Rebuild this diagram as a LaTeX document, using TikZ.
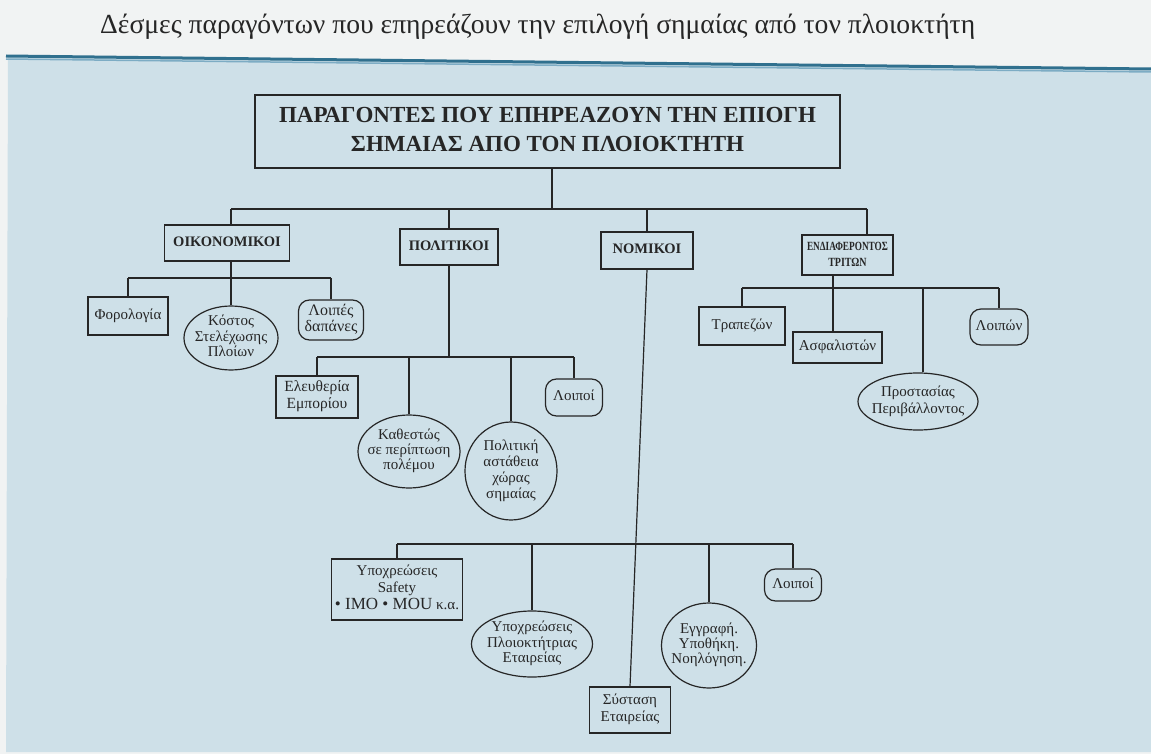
\documentclass[tikz,border=0pt]{standalone}
\usepackage{fontspec}
\usepackage{graphicx}
\setmainfont{Liberation Serif}
\usetikzlibrary{shapes.geometric}
\definecolor{bgblue}{RGB}{206,224,232}
\definecolor{paper}{RGB}{241,243,243}
\definecolor{ruledark}{RGB}{48,112,142}
\definecolor{rulelight}{RGB}{125,172,196}
\definecolor{ink}{RGB}{38,38,38}
\newcommand{\ml}[1]{\makebox[0pt]{\begin{tabular}{@{}c@{}}#1\end{tabular}}}
\begin{document}
\begin{tikzpicture}[x=1pt,y=-1pt,
  wh/.style 2 args={minimum width=#1pt, minimum height=#2pt},
  box/.style={draw=ink, rectangle, line width=1.2pt, inner sep=0pt, text=ink,
    font=\fontsize{15}{15}\selectfont},
  head/.style={box, font=\bfseries\fontsize{14.5}{16}\selectfont},
  pill/.style={box, rounded corners=11pt},
  oval/.style={draw=ink, ellipse, line width=1.2pt, inner sep=0pt, text=ink,
    font=\fontsize{15}{15}\selectfont},
  link/.style={draw=ink, line width=1.2pt}]
\useasboundingbox (0,0) rectangle (1151,754);
% page background
\fill[paper] (0,0) rectangle (1151,754);
\fill[bgblue] (8,57) -- (1151,70) -- (1151,752) -- (6,752) -- cycle;
\draw[ruledark, line width=3pt] (6,56) -- (1151,69);
\draw[rulelight, line width=1.5pt] (6,59) -- (1151,72);
% caption
\node[anchor=base west, inner sep=0pt, text=ink, font=\fontsize{27.6}{28}\selectfont] (cap) at (100,34)
  {Δέσμες παραγόντων που επηρεάζουν την επιλογή σημαίας από τον πλοιοκτήτη};
% root
\node[box, wh={585}{73}, font=\bfseries\fontsize{23}{29}\selectfont] (main) at (547.5,131.5)
  {\ml{ΠΑΡΑΓΟΝΤΕΣ ΠΟΥ ΕΠΗΡΕΑΖΟΥΝ ΤΗΝ ΕΠΙΟΓΗ\\ΣΗΜΑΙΑΣ ΑΠΟ ΤΟΝ ΠΛΟΙΟΚΤΗΤΗ}};
% level 1
\node[head, wh={125}{36}] (oik) at (227,243) {\ml{ΟΙΚΟΝΟΜΙΚΟΙ}};
\node[head, wh={98}{36}] (pol) at (449,247) {\ml{ΠΟΛΙΤΙΚΟΙ}};
\node[head, wh={92}{37}] (nom) at (647,250.5) {\ml{ΝΟΜΙΚΟΙ}};
\node[head, wh={91}{40}, font=\bfseries\fontsize{12.5}{16}\selectfont] (end) at (847.5,255)
  {\ml{\scalebox{0.74}[1]{ΕΝΔΙΑΦΕΡΟΝΤΟΣ}\\\scalebox{0.8}[1]{ΤΡΙΤΩΝ}}};
% economic
\node[box, wh={80}{38}] (for) at (128,316) {\ml{Φορολογία}};
\node[oval, wh={94}{63}] (kos) at (231,338) {\ml{Κόστος\\Στελέχωσης\\Πλοίων}};
\node[pill, wh={65}{40}, font=\fontsize{16}{16}\selectfont] (lo1) at (331,320) {\ml{Λοιπές\\δαπάνες}};
% political
\node[box, wh={82}{42}, font=\fontsize{15.5}{17}\selectfont] (ele) at (317,397) {\ml{Ελευθερία\\Εμπορίου}};
\node[oval, wh={102}{73}] (kat) at (409,451.5) {\ml{Καθεστώς\\σε περίπτωση\\πολέμου}};
\node[oval, wh={92}{98}, font=\fontsize{15}{16}\selectfont] (ast) at (511,471) {\ml{Πολιτική\\αστάθεια\\χώρας\\σημαίας}};
\node[pill, wh={57}{37}] (lo2) at (574,397.5) {\ml{Λοιποί}};
% legal
\node[box, wh={131}{61}, font=\fontsize{15}{17}\selectfont] (saf) at (397,589.5)
  {\ml{Υποχρεώσεις\\Safety\\{\fontsize{17}{17}\selectfont • IMO • MOU} κ.α.}};
\node[oval, wh={121}{66}] (ypo) at (532,644) {\ml{Υποχρεώσεις\\Πλοιοκτήτριας\\Εταιρείας}};
\node[box, wh={81}{46}, font=\fontsize{15}{17}\selectfont] (sys) at (630,710) {\ml{Σύσταση\\Εταιρείας}};
\node[oval, wh={95}{85}] (egg) at (709,645.5) {\ml{Εγγραφή.\\Υποθήκη.\\Νοηλόγηση.}};
\node[pill, wh={57}{32}] (lo3) at (793,585) {\ml{Λοιποί}};
% third parties
\node[box, wh={86}{38}] (tra) at (742,326) {\ml{Τραπεζών}};
\node[box, wh={89}{31}] (asf) at (837.5,347.5) {\ml{Ασφαλιστών}};
\node[oval, wh={120}{57}, font=\fontsize{15}{17}\selectfont] (pro) at (918,401.5) {\ml{Προστασίας\\Περιβάλλοντος}};
\node[pill, wh={58}{36}] (lo4) at (999,327) {\ml{Λοιπών}};
% connectors: root
\coordinate (tb) at (552,209);
\coordinate (tbL) at (231,209);
\coordinate (tbR) at (867,209);
\draw[link] (main.south -| tb) -- (tb);
\draw[link] (tbL) -- (tbR);
\draw[link] (tbL) -- (tbL |- oik.north);
\draw[link] (pol.north |- tb) -- (pol.north);
\draw[link] (nom.north |- tb) -- (nom.north);
\draw[link] (tbR) -- (tbR |- end.north);
% connectors: economic
\coordinate (ob) at (231,278);
\draw[link] (oik.south -| ob) -- (ob);
\draw[link] (for.north |- ob) -- (lo1.north |- ob);
\draw[link] (for.north |- ob) -- (for.north);
\draw[link] (ob) -- (kos.north);
\draw[link] (lo1.north |- ob) -- (lo1.north);
% connectors: political
\coordinate (pb) at (449,357);
\draw[link] (pol.south) -- (pb);
\draw[link] (ele.north |- pb) -- (lo2.north |- pb);
\draw[link] (ele.north |- pb) -- (ele.north);
\draw[link] (kat.north |- pb) -- (kat.north);
\draw[link] (ast.north |- pb) -- (ast.north);
\draw[link] (lo2.north |- pb) -- (lo2.north);
% connectors: legal
\coordinate (nb) at (640,544);
\draw[link] (nom.south) -- (sys.north);
\draw[link] (saf.north |- nb) -- (lo3.north |- nb);
\draw[link] (saf.north |- nb) -- (saf.north);
\draw[link] (ypo.north |- nb) -- (ypo.north);
\draw[link] (egg.north |- nb) -- (egg.north);
\draw[link] (lo3.north |- nb) -- (lo3.north);
% connectors: third parties
\coordinate (eb) at (833,288);
\coordinate (ep) at (923,288);
\draw[link] (end.south -| eb) -- (eb);
\draw[link] (tra.north |- eb) -- (lo4.north |- eb);
\draw[link] (tra.north |- eb) -- (tra.north);
\draw[link] (eb) -- (eb |- asf.north);
\draw[link] (ep) -- (ep |- pro.north);
\draw[link] (lo4.north |- eb) -- (lo4.north);
\end{tikzpicture}
\end{document}
